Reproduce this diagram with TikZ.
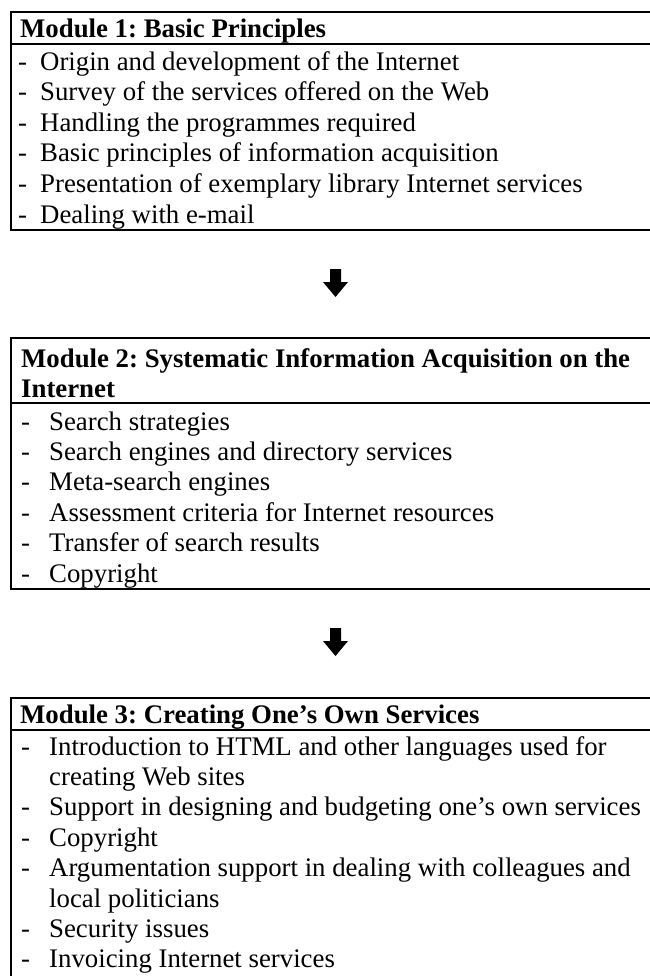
\documentclass[tikz,border=0pt]{standalone}
\usepackage{fontspec}
\setmainfont{Liberation Serif}
\frenchspacing
\begin{document}
\begin{tikzpicture}[x=1bp,y=-1bp,
  frame/.style={line width=2bp},
  txt/.style={anchor=base west, inner sep=0pt, font=\fontsize{26.9}{30.5}\selectfont},
  hdr/.style={anchor=base west, inner sep=0pt, font=\fontsize{26.9}{30.5}\selectfont\bfseries},
  downarrow/.pic={\fill (-5.5,0) -- (5.5,0) -- (5.5,13) -- (12.5,13) -- (0,28) -- (-12.5,13) -- (-5.5,13) -- cycle;}]
\clip (0,0) rectangle (650,976);
\frenchspacing
% Module 1
\draw[frame] (11,12) rectangle (700,230);
\draw[frame] (11,44) -- (700,44);
\node[hdr] (m1h) at (20,37) {Module 1: Basic Principles};
\newcommand{\itA}[1]{\makebox[22bp][l]{-}#1}
\newcommand{\itB}[1]{\makebox[28bp][l]{-}#1}
\node[txt] (m1a) at (18,70) {\itA{Origin and development of the Internet}};
\node[txt] (m1b) at (18,100.6) {\itA{Survey of the services offered on the Web}};
\node[txt] (m1c) at (18,131.2) {\itA{Handling the programmes required}};
\node[txt] (m1d) at (18,161.8) {\itA{Basic principles of information acquisition}};
\node[txt] (m1e) at (18,192.4) {\itA{Presentation of exemplary library Internet services}};
\node[txt] (m1f) at (18,223) {\itA{Dealing with e-mail}};
% arrow 1
\pic at (335.5,269) {downarrow};
% Module 2
\draw[frame] (11,338) rectangle (700,589);
\draw[frame] (11,403) -- (700,403);
\node[hdr] (m2h) at (21,367) {Module 2: Systematic Information Acquisition on the};
\node[hdr] (m2h2) at (21,397) {Internet};
\node[txt] (m2a) at (21,430) {\itB{Search strategies}};
\node[txt] (m2b) at (21,460.4) {\itB{Search engines and directory services}};
\node[txt] (m2c) at (21,490.8) {\itB{Meta-search engines}};
\node[txt] (m2d) at (21,521.2) {\itB{Assessment criteria for Internet resources}};
\node[txt] (m2e) at (21,551.6) {\itB{Transfer of search results}};
\node[txt] (m2f) at (21,582) {\itB{Copyright}};
% arrow 2
\pic at (335.5,628) {downarrow};
% Module 3
\draw[frame] (11,698) rectangle (700,1100);
\draw[frame] (11,730) -- (700,730);
\node[hdr] (m3h) at (20,723) {Module 3: Creating One’s Own Services};
\node[txt] (m3a) at (21,755) {\itB{Introduction to HTML and other languages used for}};
\node[txt] (m3a2) at (49,785.4) {creating Web sites};
\node[txt] (m3b) at (21,815.8) {\itB{Support in designing and budgeting one’s own services}};
\node[txt] (m3c) at (21,846.2) {\itB{Copyright}};
\node[txt] (m3d) at (21,876.6) {\itB{Argumentation support in dealing with colleagues and}};
\node[txt] (m3d2) at (49,907) {local politicians};
\node[txt] (m3e) at (21,937.4) {\itB{Security issues}};
\node[txt] (m3f) at (21,967.8) {\itB{Invoicing Internet services}};
\end{tikzpicture}
\end{document}
